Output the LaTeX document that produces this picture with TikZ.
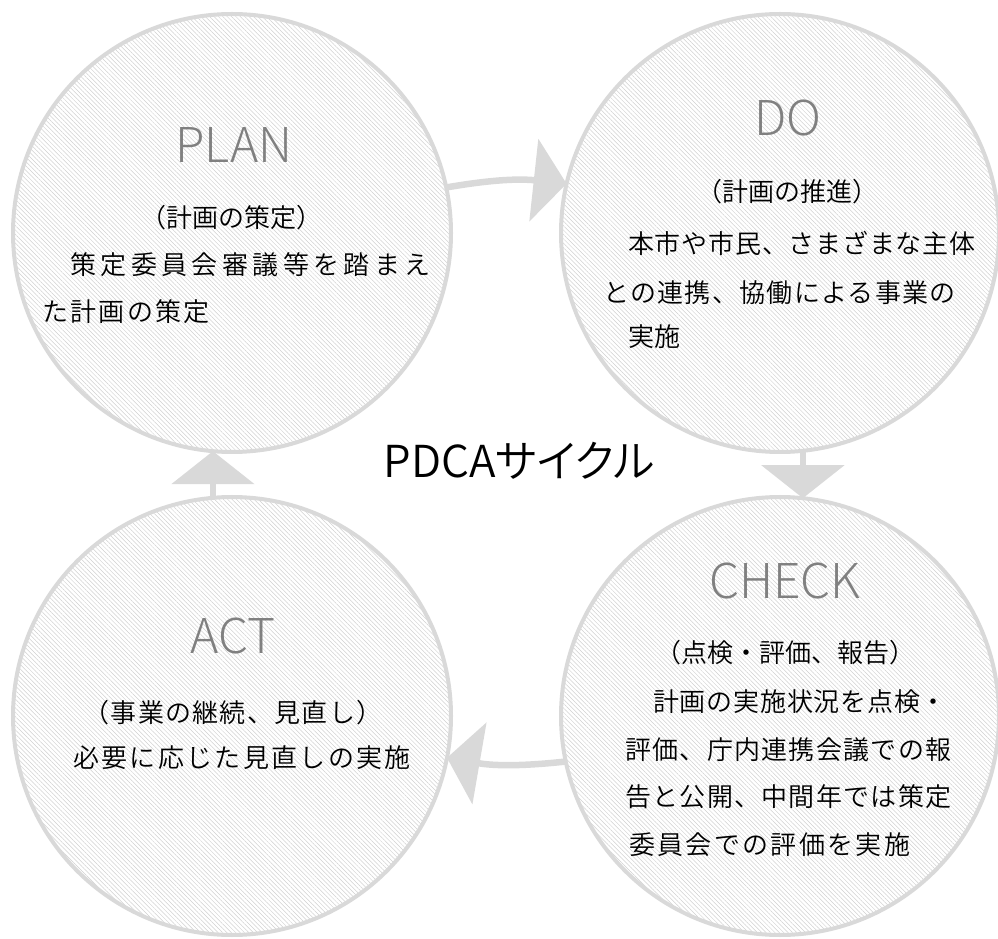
\documentclass[tikz,border=0pt]{standalone}
\usepackage{fontspec}
\newfontfamily\jp{Noto Sans CJK JP DemiLight}
\newfontfamily\jplight{Noto Sans CJK JP Light}
\usetikzlibrary{patterns.meta,arrows.meta}
\definecolor{ring}{HTML}{D9D9D9}
\definecolor{hatch}{HTML}{D0D0D0}
\definecolor{ttl}{HTML}{808080}
\newcommand{\lsp}[2]{{\addfontfeature{LetterSpace=#1}#2}}
\tikzset{
  phase/.style={circle, minimum size=438pt, inner sep=0pt, outer sep=0pt,
    draw=ring, line width=4pt,
    pattern={Lines[angle=-45,distance=3.1pt,line width=0.5pt]}, pattern color=hatch},
  ttlstyle/.style={text=ttl, font=\jplight\fontsize{48}{48}\selectfont, inner sep=0pt},
  body/.style={font=\jp\fontsize{26}{26}\selectfont, inner sep=0pt, anchor=west},
  bodyc/.style={font=\jp\fontsize{26}{26}\selectfont, inner sep=0pt, anchor=center},
  flow/.style={draw=ring, line width=6.5pt, -{Triangle[width=82pt,length=33pt]}},
  biglabel/.style={font=\jp\fontsize{44}{44}\selectfont, inner sep=0pt},
}
\begin{document}
\begin{tikzpicture}[x=1pt,y=1pt]
\useasboundingbox (0,0) rectangle (998,938);
% circles
\node[phase] (plan) at (232,705) {};
\node[phase] (do) at (780,705) {};
\node[phase] (check) at (780,222) {};
\node[phase] (act) at (232,222) {};
% arrows
\draw[flow] (plan.12) to[bend left=8] (do.167);
\draw[flow] (do.-84) -- (check.84);
\draw[flow] (check.-168) to[bend left=8] (act.-11);
\draw[flow] (act.95) -- (plan.-95);
% PLAN
\node[ttlstyle] (tplan) at (234,793) {PLAN};
\node[bodyc] (plan1) at (231,720) {（計画の策定）};
\node[body] (plan2) at (70,673) {\lsp{17}{策定委員会審議等を踏まえ}};
\node[body] (plan3) at (42,626) {\lsp{9}{た計画の策定}};
% DO
\node[ttlstyle] (tdo) at (788,820) {DO};
\node[bodyc] (do1) at (787,746) {（計画の推進）};
\node[body] (do2) at (628,695) {\lsp{3}{本市や市民、さまざまな主体}};
\node[body] (do3) at (603,645) {\lsp{5}{との連携、協働による事業の}};
\node[body] (do4) at (628,601) {\lsp{3}{実施}};
% CHECK
\node[ttlstyle] (tcheck) at (785,357) {CHECK};
\node[bodyc] (check1) at (785,285) {（点検・評価、報告）};
\node[body] (check2) at (653,236) {\lsp{3}{計画の実施状況を点検・}};
\node[body] (check3) at (625,188) {\lsp{5}{評価、庁内連携会議での報}};
\node[body] (check4) at (625,141) {\lsp{5}{告と公開、中間年では策定}};
\node[body] (check5) at (629,93) {\lsp{9}{委員会での評価を実施}};
% ACT
\node[ttlstyle] (tact) at (233,302) {ACT};
\node[bodyc] (act1) at (233,225) {\lsp{5}{（事業の継続、見直し）}};
\node[body] (act2) at (73,180) {\lsp{9}{必要に応じた見直しの実施}};
% center label
\node[biglabel] (lbl) at (519,477) {PDCA{\addfontfeature{RawFeature=+palt}サイクル}};
\end{tikzpicture}
\end{document}
